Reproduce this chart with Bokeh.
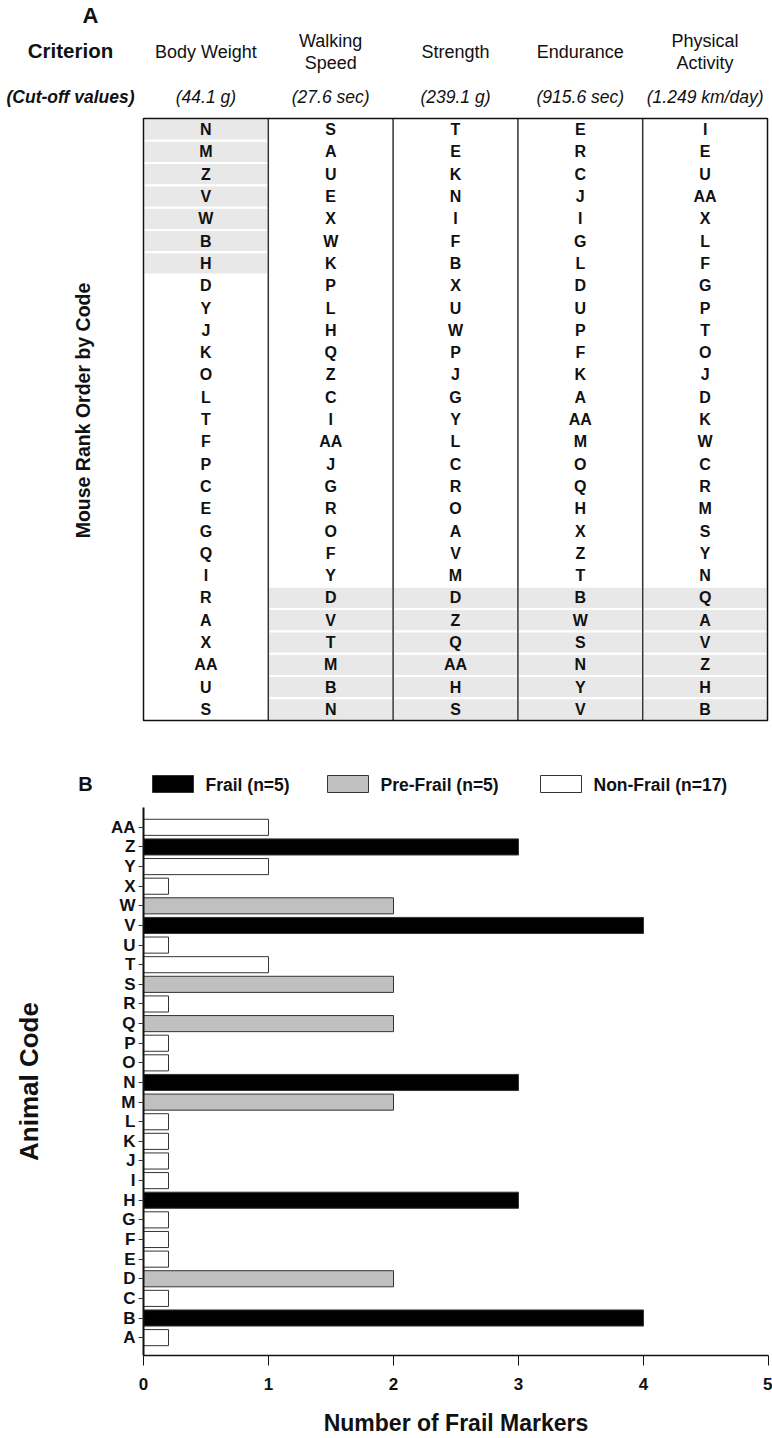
import math
from bokeh.plotting import figure
from bokeh.layouts import column
from bokeh.models import Range1d, FixedTicker, ColumnDataSource
from bokeh.core.properties import value
from bokeh.embed import file_html
from bokeh.resources import INLINE

# ---------------- Panel A data ----------------
header_line1 = ["Body Weight", "Walking", "Strength", "Endurance", "Physical"]
header_line2 = ["", "Speed", "", "", "Activity"]
cutoffs = ["(44.1 g)", "(27.6 sec)", "(239.1 g)", "(915.6 sec)", "(1.249 km/day)"]

rank_body_weight = ["N", "M", "Z", "V", "W", "B", "H", "D", "Y", "J", "K", "O", "L", "T",
                    "F", "P", "C", "E", "G", "Q", "I", "R", "A", "X", "AA", "U", "S"]
rank_walking = ["S", "A", "U", "E", "X", "W", "K", "P", "L", "H", "Q", "Z", "C", "I",
                "AA", "J", "G", "R", "O", "F", "Y", "D", "V", "T", "M", "B", "N"]
rank_strength = ["T", "E", "K", "N", "I", "F", "B", "X", "U", "W", "P", "J", "G", "Y",
                 "L", "C", "R", "O", "A", "V", "M", "D", "Z", "Q", "AA", "H", "S"]
rank_endurance = ["E", "R", "C", "J", "I", "G", "L", "D", "U", "P", "F", "K", "A", "AA",
                  "M", "O", "Q", "H", "X", "Z", "T", "B", "W", "S", "N", "Y", "V"]
rank_activity = ["I", "E", "U", "AA", "X", "L", "F", "G", "P", "T", "O", "J", "D", "K",
                 "W", "C", "R", "M", "S", "Y", "N", "Q", "A", "V", "Z", "H", "B"]
# shaded (frail-criterion) rows, first..last row index per column
shade_first = [0, 21, 21, 21, 21]
shade_last = [6, 26, 26, 26, 26]

# ---------------- Panel B data ----------------
animals = ["A", "B", "C", "D", "E", "F", "G", "H", "I", "J", "K", "L", "M", "N",
           "O", "P", "Q", "R", "S", "T", "U", "V", "W", "X", "Y", "Z", "AA"]
frail_markers = [0.2, 4, 0.2, 2, 0.2, 0.2, 0.2, 3, 0.2, 0.2, 0.2, 0.2, 2, 3,
                 0.2, 0.2, 2, 0.2, 2, 1, 0.2, 4, 2, 0.2, 1, 3, 1]
status = ["Non", "Frail", "Non", "Pre", "Non", "Non", "Non", "Frail", "Non", "Non",
          "Non", "Non", "Pre", "Frail", "Non", "Non", "Pre", "Non", "Pre", "Non",
          "Non", "Frail", "Pre", "Non", "Non", "Frail", "Non"]
legend_keys = ["Frail", "Pre", "Non"]
legend_labels = ["Frail (n=5)", "Pre-Frail (n=5)", "Non-Frail (n=17)"]
status_colors = {"Frail": "#000000", "Pre": "#c0c0c0", "Non": "#ffffff"}

FONT = value("Liberation Sans")

# ---------------- Figure A (pixel-like coordinates) ----------------
pa = figure(width=772, height=800, x_range=Range1d(0, 772), y_range=Range1d(800, 0),
            output_backend="svg", toolbar_location=None, min_border=0,
            x_axis_location=None, y_axis_location=None)
pa.grid.visible = False
pa.outline_line_color = None

TL, CW, TT, RH = 143.0, 124.8, 118.0, 22.3
ranks = [rank_body_weight, rank_walking, rank_strength, rank_endurance, rank_activity]
ncols = len(ranks)
nrows = len(rank_body_weight)

# shaded cells
sl, sr, st, sb = [], [], [], []
for c in range(ncols):
    for r in range(shade_first[c], shade_last[c] + 1):
        sl.append(TL + c * CW); sr.append(TL + (c + 1) * CW)
        st.append(TT + r * RH); sb.append(TT + (r + 1) * RH)
pa.quad(left=sl, right=sr, top=st, bottom=sb, fill_color="#e8e8e8",
        line_color="white", line_width=2)

# inner column lines
for c in range(1, ncols):
    pa.segment(x0=[TL + c * CW], y0=[TT], x1=[TL + c * CW], y1=[TT + nrows * RH],
               line_color="#333333", line_width=1.5)
# outer border
pa.quad(left=[TL], right=[TL + ncols * CW], top=[TT], bottom=[TT + nrows * RH],
        fill_color=None, line_color="#111111", line_width=1.5)

# cell letters
cx, cy, ct = [], [], []
for c in range(ncols):
    for r in range(nrows):
        cx.append(TL + (c + 0.5) * CW); cy.append(TT + (r + 0.5) * RH); ct.append(ranks[c][r])
pa.text(x=cx, y=cy, text=ct, text_align="center", text_baseline="middle",
        text_font=FONT, text_font_style="bold", text_font_size="16px", text_color="#111111")

# headers
hx, hy, ht = [], [], []
for c in range(ncols):
    x = TL + (c + 0.5) * CW
    if header_line2[c]:
        hx += [x, x]; hy += [40, 62]; ht += [header_line1[c], header_line2[c]]
    else:
        hx.append(x); hy.append(51); ht.append(header_line1[c])
pa.text(x=hx, y=hy, text=ht, text_align="center", text_baseline="middle",
        text_font=FONT, text_font_size="18px", text_color="#111111")
pa.text(x=[TL + (c + 0.5) * CW for c in range(ncols)], y=[96] * ncols, text=cutoffs,
        text_align="center", text_baseline="middle", text_font=FONT,
        text_font_style="italic", text_font_size="17.5px", text_color="#111111")

pa.text(x=[70], y=[50], text=["Criterion"], text_align="center", text_baseline="middle",
        text_font=FONT, text_font_style="bold", text_font_size="20.5px", text_color="#111111")
pa.text(x=[70], y=[96], text=["(Cut-off values)"], text_align="center", text_baseline="middle",
        text_font=FONT, text_font_style="bold italic", text_font_size="17.5px", text_color="#111111")
pa.text(x=[90], y=[15], text=["A"], text_align="center", text_baseline="middle",
        text_font=FONT, text_font_style="bold", text_font_size="22px", text_color="#111111")
pa.text(x=[82], y=[410], text=["Mouse Rank Order by Code"], angle=math.pi / 2,
        text_align="center", text_baseline="middle", text_font=FONT,
        text_font_style="bold", text_font_size="19.5px", text_color="#111111")

# panel B label + legend (drawn in the top figure, above panel B plot)
pa.text(x=[85], y=[783], text=["B"], text_align="center", text_baseline="middle",
        text_font=FONT, text_font_style="bold", text_font_size="20px", text_color="#111111")
leg_box_left = [152, 327, 540]
pa.quad(left=leg_box_left, right=[x + 41 for x in leg_box_left], top=[775] * 3, bottom=[792] * 3,
        fill_color=[status_colors[k] for k in legend_keys], line_color="#333333", line_width=1)
pa.text(x=[x + 53 for x in leg_box_left], y=[784] * 3, text=legend_labels, text_align="left",
        text_baseline="middle", text_font=FONT, text_font_style="bold",
        text_font_size="17.5px", text_color="#111111")

# ---------------- Figure B ----------------
pb = figure(width=772, height=638, x_range=Range1d(0, 5), y_range=Range1d(-0.91, 27.01),
            output_backend="svg", toolbar_location=None,
            min_border_top=7, min_border_bottom=78, min_border_left=143, min_border_right=4)
pb.grid.visible = False
pb.outline_line_color = None

for plot in (pa, pb):
    try:
        plot.frame_align = False
    except Exception:
        pass

src = ColumnDataSource(dict(y=list(range(len(animals))), right=frail_markers,
                            color=[status_colors[s] for s in status]))
pb.hbar(y="y", left=0, right="right", height=0.82, source=src, fill_color="color",
        line_color="#333333", line_width=1)

ya = pb.yaxis[0]
ya.ticker = FixedTicker(ticks=list(range(len(animals))))
ya.major_label_overrides = {i: a for i, a in enumerate(animals)}
ya.major_label_text_font = "Liberation Sans"
ya.major_label_text_font_style = "bold"
ya.major_label_text_font_size = "17px"
ya.major_label_text_color = "#111111"
ya.major_tick_out = 5
ya.major_tick_in = 0
ya.minor_tick_out = 0
ya.minor_tick_in = 0
ya.axis_line_width = 2
ya.axis_line_color = "#111111"
ya.major_tick_line_color = "#333333"
ya.major_label_standoff = 3
ya.axis_label = "Animal Code"
ya.axis_label_text_font = "Liberation Sans"
ya.axis_label_text_font_style = "bold"
ya.axis_label_text_font_size = "26px"
ya.axis_label_text_color = "#111111"
ya.axis_label_standoff = 64

xa = pb.xaxis[0]
xa.ticker = FixedTicker(ticks=[0, 1, 2, 3, 4, 5])
xa.major_label_text_font = "Liberation Sans"
xa.major_label_text_font_style = "bold"
xa.major_label_text_font_size = "17px"
xa.major_label_text_color = "#111111"
xa.major_tick_out = 10
xa.major_tick_in = 0
xa.minor_tick_out = 0
xa.minor_tick_in = 0
xa.axis_line_width = 1.5
xa.axis_line_color = "#111111"
xa.major_tick_line_color = "#111111"
xa.major_label_standoff = 12
xa.axis_label = "Number of Frail Markers"
xa.axis_label_text_font = "Liberation Sans"
xa.axis_label_text_font_style = "bold"
xa.axis_label_text_font_size = "23px"
xa.axis_label_text_color = "#111111"
xa.axis_label_standoff = 17

layout = column(pa, pb, spacing=0)
open("out.html", "w").write(file_html(layout, INLINE))
